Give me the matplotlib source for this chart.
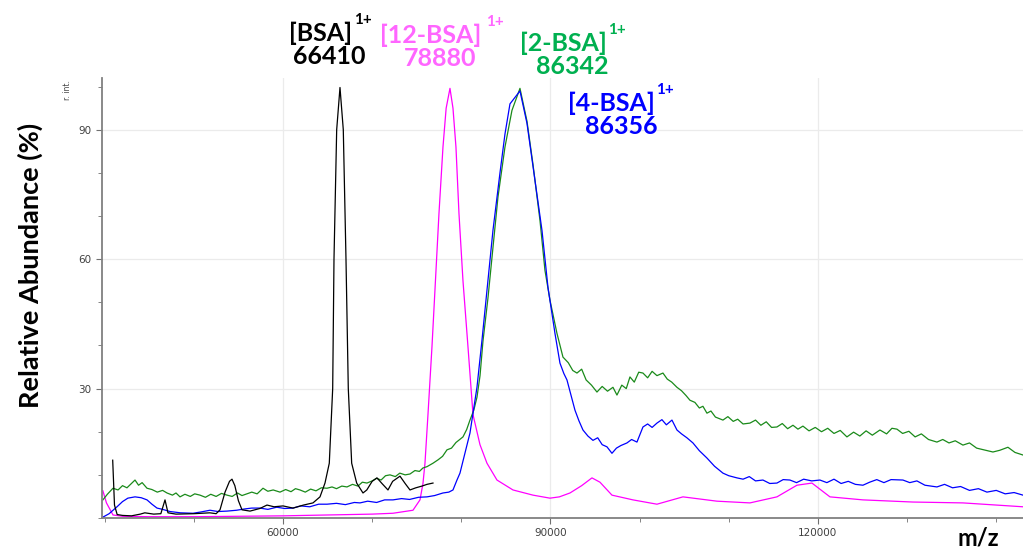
import numpy as np
import matplotlib
matplotlib.use('Agg')
import matplotlib.pyplot as plt
from matplotlib.ticker import MultipleLocator, FixedLocator

# spectra (m/z, relative abundance %)
bsa_mz = [40900, 41100, 41400, 42000, 43000, 44000, 44500, 45500, 46300, 46767, 47100,
          48000, 50000, 51800, 52500, 52935, 53500, 54000, 54280, 54600, 55000, 55402,
          56300, 57400, 58206, 59000, 60000, 61122, 62300, 63364, 64150, 64710, 65193,
          65574, 65720, 66022, 66393, 66763, 67066, 67324, 67704, 68265, 68972, 69400,
          70000, 70542, 71100, 71776, 72300, 73122, 73700, 74243, 74900, 75589, 76150, 76823]
bsa_int = [13.4, 3.0, 0.8, 0.6, 0.5, 0.9, 1.2, 0.9, 1.0, 4.2, 1.2,
           0.9, 1.0, 1.2, 1.0, 1.9, 6.0, 8.5, 9.0, 7.5, 4.0, 1.9,
           1.6, 2.2, 3.0, 2.6, 2.8, 2.3, 3.0, 3.5, 4.9, 8.1, 12.7,
           30, 60, 90, 99.8, 90, 60, 30, 12.7, 8.1, 5.8, 6.5,
           8.5, 9.3, 8.0, 6.5, 8.5, 9.7, 8.0, 6.5, 7.0, 7.4, 7.8, 8.1]

bsa12_mz = [39800, 40200, 40935, 42000, 45000, 50000, 55000, 60000, 65000, 70000, 72337,
            74580, 75365, 75700, 75925, 76262, 76710, 77100, 77495, 77944, 78300, 78729,
            79066, 79400, 79738, 80187, 80748, 81309, 82094, 82879, 84000, 85795, 88038,
            89944, 91000, 92187, 93500, 94654, 95552, 96897, 99253, 101944, 104860,
            108673, 112374, 115402, 117645, 119327, 121346, 125047, 130654, 136262, 143000]
bsa12_int = [6.3, 3.5, 0.7, 0.4, 0.3, 0.3, 0.4, 0.5, 0.7, 0.9, 1.1,
             1.8, 4.2, 8.0, 12.7, 24, 39.7, 55, 70.6, 86, 95, 99.6,
             95, 86, 70.6, 55, 39.7, 24, 17, 12.7, 8.8, 6.5, 5.3,
             4.6, 4.9, 5.8, 7.5, 9.3, 8.3, 5.3, 4.2, 3.2, 4.9,
             3.9, 3.5, 4.9, 7.6, 8.1, 4.9, 4.2, 3.7, 3.5, 2.6]

bsa2_mz = [39800, 40300, 40935, 41500, 42000, 42500, 43000, 43402, 43800, 44200, 44748,
           45300, 45900, 46500, 46991, 47600, 48000, 48449, 49000, 49600, 50100, 50692,
           51300, 51900, 52500, 53100, 53720, 54300, 54900, 55400, 55963, 56500, 57100,
           57757, 58300, 58900, 59664, 60300, 60900, 61400, 61907, 62500, 63100, 63700,
           64300, 64935, 65500, 66000, 66600, 67177, 67800, 68400, 68900, 69421, 70000,
           70500, 71000, 71500, 72000, 72600, 73100, 73700, 74243, 74800, 75300, 75700,
           76150, 76823, 77400, 77900, 78393, 78900, 79400, 80187, 80600, 80972, 81400,
           81757, 82100, 82430, 82991, 83552, 84112, 84897, 85682, 86580, 87365, 88038,
           88823, 89383, 89944, 90729, 91402, 92000, 92500, 92972, 93500, 94000, 94600,
           95215, 95800, 96400, 97010, 97458, 98000, 98500, 98916, 99400, 99900, 100374,
           100900, 101400, 101944, 102617, 103100, 103600, 104187, 104700, 105200, 105645,
           106200, 106700, 107100, 107552, 108000, 108500, 109346, 109900, 110500, 111000,
           111600, 112374, 113000, 113600, 114200, 114800, 115402, 116000, 116600, 117200,
           117757, 118318, 119000, 119700, 120400, 121100, 121800, 122500, 123252, 124000,
           124700, 125400, 126100, 126953, 127700, 128300, 128860, 129500, 130200, 130900,
           131600, 132400, 133346, 134000, 134700, 135400, 136262, 137000, 137800, 138600,
           139627, 140400, 141309, 142100, 143000]
bsa2_int = [4.2, 5.5, 6.9, 6.5, 7.5, 7.0, 8.0, 8.8, 7.6, 8.2, 6.9,
            6.6, 6.0, 6.4, 5.8, 5.3, 5.8, 4.9, 5.5, 5.0, 5.6, 5.3,
            4.8, 5.5, 5.0, 5.7, 5.3, 5.0, 5.8, 5.2, 5.6, 6.0, 5.6,
            6.9, 6.2, 6.5, 6.0, 6.6, 6.1, 6.8, 6.5, 6.0, 6.7, 6.3,
            7.0, 6.9, 7.2, 6.8, 7.4, 7.2, 7.8, 7.4, 8.3, 8.1, 8.6,
            9.2, 8.8, 9.8, 10.0, 9.6, 10.4, 10.0, 10.2, 11.0, 10.8, 11.6,
            11.9, 12.7, 13.5, 14.3, 15.8, 16.2, 17.5, 18.8, 20.5, 22.7, 25.0,
            28, 33, 41, 51, 62.8, 74.4, 86, 94.5, 99.6, 92, 82,
            69, 57.4, 50.5, 42.8, 37.3, 36.0, 34.2, 33.6, 34.5, 32.0, 30.8,
            29.2, 30.5, 29.4, 30.3, 28.5, 30.8, 30.0, 32.7, 31.5, 33.8, 33.6,
            32.5, 34.0, 33.0, 33.6, 32.2, 31.5, 30.3, 29.5, 28.4, 27.3,
            26.8, 25.5, 25.9, 24.3, 24.8, 23.4, 22.7, 23.5, 22.4, 22.9,
            21.8, 22.0, 22.7, 21.5, 22.3, 21.0, 21.1, 21.9, 20.7, 21.5,
            20.6, 21.3, 20.2, 21.0, 20.0, 20.8, 19.6, 20.3, 18.8, 19.9,
            19.0, 20.2, 19.2, 20.4, 19.5, 20.8, 20.6, 19.6, 20.1, 18.8,
            19.5, 18.2, 17.6, 18.2, 17.4, 17.9, 16.9, 17.4, 16.2, 15.8,
            15.3, 15.7, 16.4, 15.2, 14.6]

bsa4_mz = [39800, 40500, 41383, 42000, 42600, 43402, 44100, 44748, 45300, 45869, 46500,
           47327, 48500, 49907, 50800, 51813, 52700, 53720, 54800, 55700, 56500, 57421,
           58300, 59300, 60200, 61122, 62000, 63000, 64000, 64935, 66000, 67000, 68000,
           68636, 69500, 70500, 71400, 72337, 73300, 74200, 75200, 76150, 77000, 77944,
           78600, 79066, 79514, 79850, 80972, 81757, 82318, 82991, 83552, 84337, 84897,
           85458, 86580, 87365, 88262, 89047, 89720, 90505, 91066, 91500, 91851, 92300,
           92748, 93200, 93645, 94200, 94767, 95300, 95800, 96337, 96897, 97400, 97900,
           98580, 99100, 99701, 100374, 100900, 101400, 101944, 102500, 103000, 103626,
           104187, 104700, 105300, 105981, 106700, 107552, 108400, 109346, 110000, 110916,
           111600, 112300, 113000, 113832, 114600, 115402, 116100, 116860, 117600, 118400,
           119300, 120224, 121000, 121800, 122600, 123400, 124200, 125047, 125800, 126600,
           127400, 128200, 129533, 130300, 131100, 132000, 133346, 134200, 135100, 136000,
           137000, 138000, 138954, 140000, 141000, 142000, 143000]
bsa4_int = [0.2, 1.0, 2.6, 3.8, 4.6, 4.9, 4.7, 4.2, 3.2, 2.3, 2.0,
            1.5, 1.2, 1.1, 1.4, 1.8, 1.5, 1.6, 1.8, 2.1, 2.3, 2.3,
            2.0, 2.5, 2.2, 2.3, 2.8, 2.6, 3.2, 3.2, 3.4, 3.1, 3.6,
            3.5, 3.9, 3.6, 4.2, 4.2, 4.5, 4.3, 4.8, 4.9, 5.2, 5.8,
            6.0, 6.5, 8.8, 10.4, 19.7, 30.3, 41.2, 55, 66.7, 80, 89,
            96, 99, 91.5, 78.3, 66.7, 53.5, 42.8, 35.9, 33.5, 32, 28.5,
            25, 22.5, 20.4, 19.0, 18, 18.6, 17.0, 16.5, 15, 16.2, 16.8,
            17.4, 18.2, 17.6, 21.1, 21.8, 21.0, 22, 22.8, 21.6, 22.7,
            20.4, 19.5, 18.6, 17.4, 15.6, 13.9, 12.0, 10.4, 9.8, 9.3,
            9.0, 9.6, 8.6, 8.8, 8.0, 8.1, 8.9, 8.8, 8.2, 9.0,
            8.6, 8.8, 8.2, 9.0, 8.0, 8.5, 7.8, 7.6, 8.3, 8.9,
            8.2, 8.9, 8.8, 8.2, 8.6, 7.6, 7.2, 7.8, 7.0, 7.3,
            6.4, 6.8, 6.0, 6.4, 5.6, 5.9, 5.3]

fig = plt.figure(figsize=(10.23, 5.5), dpi=100)
ax = fig.add_axes([102/1023, 32/550, 921/1023, 440/550])

ax.plot(bsa12_mz, bsa12_int, color='#ff00ff', lw=0.9)
ax.plot(bsa2_mz, bsa2_int, color='#1a8a1a', lw=0.9)
ax.plot(bsa4_mz, bsa4_int, color='#0000ff', lw=0.9)
ax.plot(bsa_mz, bsa_int, color='black', lw=0.9)

ax.set_xlim(39700, 143000)
ax.set_ylim(0, 102)
ax.xaxis.set_major_locator(MultipleLocator(30000))
ax.xaxis.set_minor_locator(MultipleLocator(10000))
ax.yaxis.set_major_locator(FixedLocator([30, 60, 90]))
ax.yaxis.set_minor_locator(MultipleLocator(10))
ax.grid(True, which='major', color='#ebebeb', lw=0.9)
ax.set_axisbelow(True)
for s in ['top', 'right']:
    ax.spines[s].set_visible(False)
for s in ['left', 'bottom']:
    ax.spines[s].set_color('#808080')
    ax.spines[s].set_linewidth(1.3)
ax.tick_params(which='both', colors='#707070', labelcolor='#404040', labelsize=7.5)
ax.tick_params(which='major', length=4)
ax.tick_params(which='minor', length=3)

lab = dict(family='Lato', weight='bold')
fig.text(30/1023, 1-265/550, 'Relative Abundance (%)', rotation=90, ha='center', va='center',
         fontsize=19.5, **lab)
fig.text(978/1023, 1-538/550, 'm/z', ha='center', va='center', fontsize=17, **lab)
fig.text(68/1023, 1-90/550, 'r. int.', rotation=90, ha='center', va='center',
         fontsize=5.5, color='#404040')

def peak_label(x0, y0, name, mass, color, sup_x, mass_x):
    fig.text(x0/1023, 1-y0/550, name, color=color, fontsize=18, ha='left', va='baseline', **lab)
    fig.text(sup_x/1023, 1-(y0-17)/550, '1+', color=color, fontsize=11, ha='left', va='baseline', **lab)
    fig.text(mass_x/1023, 1-(y0+23)/550, mass, color=color, fontsize=18, ha='center', va='baseline', **lab)

peak_label(289, 41, '[BSA]', '66410', 'black', 354, 329)
peak_label(380, 43, '[12-BSA]', '78880', '#ff66ff', 486, 440)
peak_label(520, 51, '[2-BSA]', '86342', '#00b050', 608, 572)
peak_label(568, 111, '[4-BSA]', '86356', '#0000ff', 656, 621)

fig.savefig('out.png', dpi=100)
